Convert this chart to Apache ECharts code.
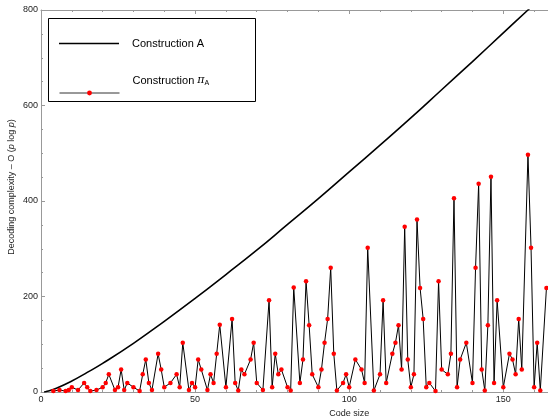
<!DOCTYPE html>
<html>
<head>
<meta charset="utf-8">
<script src="https://cdn.jsdelivr.net/npm/echarts@6/dist/echarts.min.js"></script>
<style>
    html, body { margin: 0; padding: 0; background: #fff; }
    #chartBox { width: 548px; height: 420px; }
</style>
</head>
<body>
<div id="chartBox"></div>
<script>
// Construction A (smooth curve)
var curveX = [1, 2, 5, 10, 15, 20, 30, 40, 50, 60, 70, 80, 90, 100, 110, 120, 130, 140, 150, 158, 162]
var curveY = [0, 1.4, 8, 23, 41, 60, 102, 148, 196, 246, 297, 351, 405, 461, 517, 574, 633, 692, 752, 800, 824]

// Construction pi_A, one point per composite code size
var codeSize = [4, 6, 8, 9, 10, 12, 14, 15, 16, 18, 20, 21, 22, 24, 25, 26, 27, 28, 30, 32,
    33, 34, 35, 36, 38, 39, 40, 42, 44, 45, 46, 48, 49, 50, 51, 52, 54, 55, 56, 57,
    58, 60, 62, 63, 64, 65, 66, 68, 69, 70, 72, 74, 75, 76, 77, 78, 80, 81, 82, 84,
    85, 86, 87, 88, 90, 91, 92, 93, 94, 95, 96, 98, 99, 100, 102, 104, 105, 106, 108, 110,
    111, 112, 114, 115, 116, 117, 118, 119, 120, 121, 122, 123, 124, 125, 126, 128, 129, 130, 132, 133,
    134, 135, 136, 138, 140, 141, 142, 143, 144, 145, 146, 147, 148, 150, 152, 153, 154, 155, 156, 158,
    159, 160, 161, 162, 164]
var complexity = [2, 4, 2, 4, 10, 4, 19, 10, 2, 4, 10, 19, 37, 4, 10, 47, 4, 19, 10, 2,
    37, 68, 19, 4, 80, 47, 10, 19, 37, 10, 103, 4, 19, 10, 68, 47, 4, 37, 19, 80,
    141, 10, 153, 19, 3, 47, 37, 68, 103, 19, 4, 192, 10, 80, 37, 47, 10, 3, 219, 19,
    68, 232, 140, 37, 10, 47, 103, 153, 260, 80, 3, 19, 37, 10, 68, 47, 19, 302, 3, 37,
    192, 19, 80, 103, 140, 47, 346, 68, 10, 37, 361, 218, 153, 10, 19, 2, 232, 47, 37, 80,
    406, 10, 68, 103, 19, 260, 436, 47, 3, 140, 451, 19, 192, 10, 80, 68, 37, 153, 47, 497,
    302, 10, 103, 3, 218]

var xTicks = [0, 50, 100, 150]
var yTicks = [0, 200, 400, 600, 800]

var nameA = 'Construction A'
var namePi = 'Construction πA'

function pairs(xs, ys) {
    var out = []
    for (var i = 0; i < xs.length; i++) {
        out.push([xs[i], ys[i]])
    }
    return out
}

var axisGray = '#999'
var labelColor = '#222'
var fontName = 'Liberation Sans'

function xAxisOf(pos, showLabel) {
    return {
        type: 'value',
        position: pos,
        min: 0,
        max: 200,
        interval: 50,
        axisLine: { lineStyle: { color: axisGray, width: 1 } },
        axisTick: { inside: true, length: 4, lineStyle: { color: axisGray } },
        minorTick: { show: true, splitNumber: 5, length: 2, lineStyle: { color: axisGray } },
        splitLine: { show: false },
        axisLabel: {
            show: showLabel,
            margin: 3,
            color: labelColor,
            fontFamily: fontName,
            fontSize: 9,
            formatter: function (v) {
                return xTicks.indexOf(v) >= 0 ? String(v) : ''
            }
        },
        name: showLabel ? 'Code size' : '',
        nameLocation: 'middle',
        nameGap: 17,
        nameMoveOverlap: false,
        nameTextStyle: { color: labelColor, fontFamily: fontName, fontSize: 9 }
    }
}

var option = {
    animation: false,
    backgroundColor: '#fff',
    grid: {
        left: 41,
        top: 10,
        bottom: 28,
        right: -109.4,
        containLabel: false,
        outerBoundsMode: 'none'
    },
    xAxis: [xAxisOf('bottom', true), xAxisOf('top', false)],
    yAxis: {
        type: 'value',
        min: 0,
        max: 800,
        interval: 200,
        axisLine: { show: true, lineStyle: { color: axisGray, width: 1 } },
        axisTick: { show: true, inside: true, length: 4, lineStyle: { color: axisGray } },
        minorTick: { show: true, splitNumber: 4, length: 2, lineStyle: { color: axisGray } },
        splitLine: { show: false },
        axisLabel: {
            margin: 3,
            color: labelColor,
            fontFamily: fontName,
            fontSize: 9,
            formatter: function (v) {
                return yTicks.indexOf(v) >= 0 ? String(v) : ''
            }
        },
        name: 'Decoding complexity – O ({i|p} log {i|p})',
        nameLocation: 'middle',
        nameGap: 25,
        nameMoveOverlap: false,
        nameTextStyle: {
            color: labelColor,
            fontFamily: fontName,
            fontSize: 9,
            padding: [0, 0, 0, 28],
            rich: {
                i: { fontStyle: 'italic', color: labelColor, fontFamily: fontName, fontSize: 9 }
            }
        }
    },
    graphic: [{
        type: 'rect',
        z: 3,
        shape: { x: 48.5, y: 18.5, width: 207, height: 83 },
        style: { fill: '#fff', stroke: '#000', lineWidth: 1 }
    }],
    legend: [{
        data: [{ name: nameA, icon: 'rect' }],
        left: 59,
        top: 38,
        padding: 0,
        itemWidth: 60,
        itemHeight: 1.6,
        itemStyle: { color: '#000' },
        textStyle: { color: '#000', fontFamily: fontName, fontSize: 11, padding: [0, 0, 3, 8] }
    }, {
        data: [namePi],
        left: 59,
        top: 75,
        padding: 0,
        itemWidth: 60,
        itemHeight: 6,
        lineStyle: { color: '#333', width: 1 },
        formatter: function () {
            return '{t|Construction }{i|π}{s|A}'
        },
        textStyle: {
            color: '#000',
            fontFamily: fontName,
            fontSize: 11,
            padding: [0, 0, 25, 8],
            rich: {
                t: { color: '#000', fontFamily: fontName, fontSize: 11 },
                i: { color: '#000', fontFamily: 'DejaVu Serif', fontStyle: 'italic', fontSize: 11 },
                s: { color: '#000', fontFamily: fontName, fontSize: 7, padding: [6, 0, 0, 0] }
            }
        }
    }],
    series: [{
        name: nameA,
        type: 'line',
        xAxisIndex: 0,
        data: pairs(curveX, curveY),
        smooth: true,
        symbol: 'none',
        clip: true,
        lineStyle: { color: '#000', width: 1.6 },
        itemStyle: { color: '#000' },
        z: 2
    }, {
        name: namePi,
        type: 'line',
        xAxisIndex: 0,
        data: pairs(codeSize, complexity),
        symbol: 'circle',
        symbolSize: 4.5,
        clip: true,
        lineStyle: { color: '#000', width: 1 },
        itemStyle: { color: '#ff0000', borderWidth: 0 },
        z: 3
    }]
}

var chart = echarts.init(document.getElementById('chartBox'))
chart.setOption(option)
</script>
</body>
</html>
